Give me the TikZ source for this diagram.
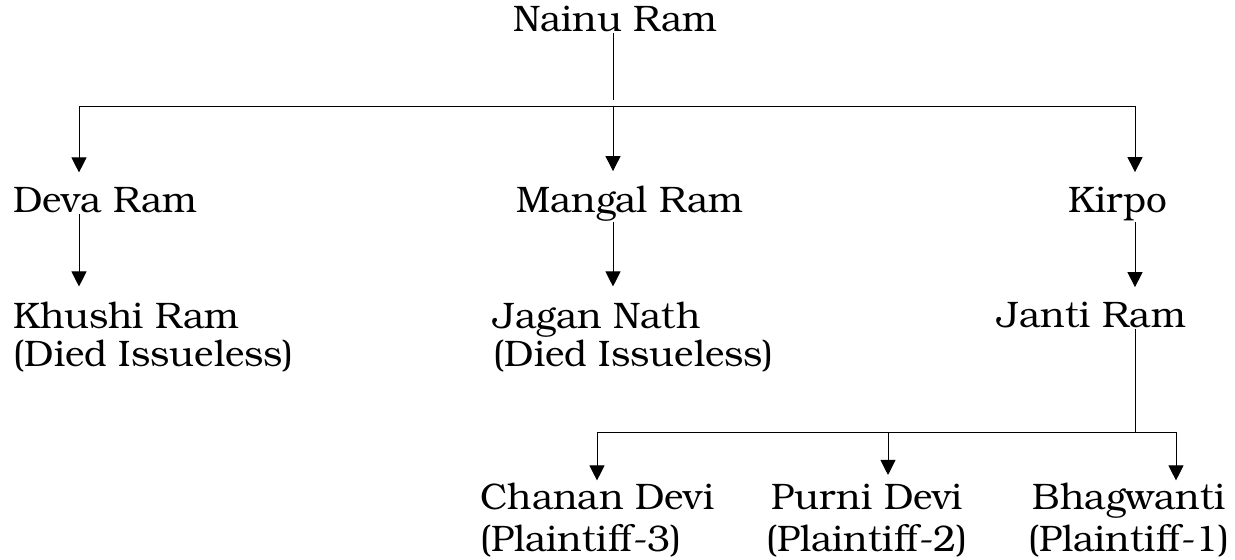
\documentclass[tikz,border=0pt]{standalone}
\usepackage{fontspec}
\setmainfont{TeX Gyre Bonum}
\usetikzlibrary{arrows.meta}

\begin{document}
\begin{tikzpicture}[x=0.02cm,y=-0.02cm,line width=0.5pt]
    % Define styles
    \tikzset{person/.style={anchor=base west,inner sep=0pt,align=left,font=\fontsize{21}{22}\selectfont},
             wide/.style={font=\fontsize{21}{24}\selectfont},
             tip/.style={-{Triangle[width=0.3cm,length=0.3cm]},shorten >=0.3cm}}

    \useasboundingbox (0,0) rectangle (1235,560);

    % Names (base = last line)
    \node[person] (nainu)  at (513,32)  {Nainu Ram};
    \node[person] (deva)   at (13,213)  {Deva Ram};
    \node[person] (mangal) at (516,213) {Mangal Ram};
    \node[person] (kirpo)  at (1068,213) {Kirpo};
    \node[person] (khushi) at (13,367)  {Khushi Ram\\(Died Issueless)};
    \node[person] (jagan)  at (493,367) {Jagan Nath\\(Died Issueless)};
    \node[person] (janti)  at (997,328) {Janti Ram};
    \node[person,wide] (chanan) at (480,552) {Chanan Devi\\(Plaintiff-3)};
    \node[person,wide,align=center] (purni) at (766,552) {Purni Devi\\(Plaintiff-2)};
    \node[person,wide,align=center] (bhag)  at (1028,552) {Bhagwanti\\(Plaintiff-1)};

    % Forks
    \coordinate (topL) at (79,106);
    \coordinate (topM) at (613,106);
    \coordinate (topR) at (1135,106);
    \coordinate (lowL) at (597,432);
    \coordinate (lowM) at (888,432);
    \coordinate (lowR) at (1176,432);

    % Lines and arrows
    \draw[shorten >=0.12cm] (nainu.south -| topM) -- (topM);
    \draw (topL) -- (topR);
    \draw[tip] (topL) -- (topL |- deva.north);
    \draw[tip] (topM) -- (topM |- mangal.north);
    \draw[tip] (topR) -- (topR |- kirpo.north);
    \draw[tip] (deva.south -| topL) -- (topL |- khushi.north);
    \draw[tip] (mangal.south -| topM) -- (topM |- jagan.north);
    \draw[tip] (kirpo.south -| topR) -- (topR |- janti.north);
    \draw (janti.south -| topR) -- (topR |- lowL);
    \draw (lowL) -- (lowR);
    \draw[tip,shorten >=0.05cm] (lowL) -- (lowL |- chanan.north);
    \draw[tip,shorten >=0.18cm] (lowM) -- (lowM |- purni.north);
    \draw[tip,shorten >=0.05cm] (lowR) -- (lowR |- bhag.north);
\end{tikzpicture}
\end{document}
